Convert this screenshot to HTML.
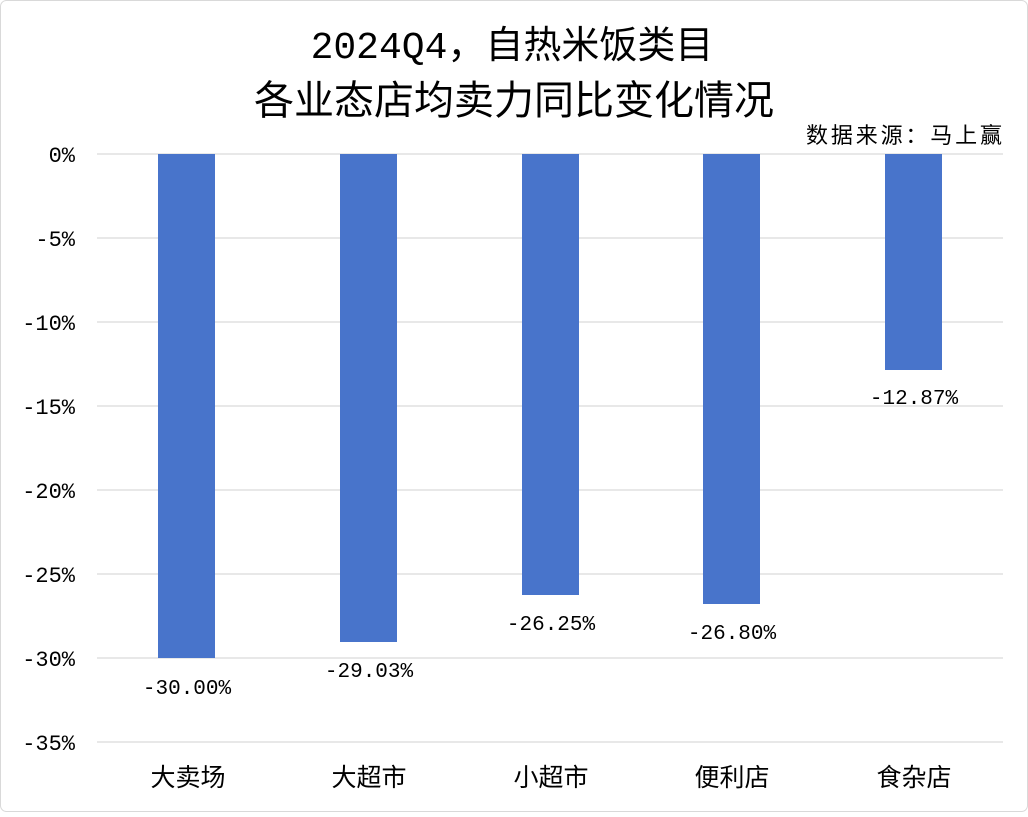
<!DOCTYPE html>
<html><head><meta charset="utf-8"><style>
html,body{margin:0;padding:0;background:#fff;}
svg text{font-family:"Liberation Mono","Noto Sans CJK SC",monospace;}
</style></head><body>
<svg width="1028" height="812" xmlns="http://www.w3.org/2000/svg">
<rect x="0.5" y="0.5" width="1027" height="811" rx="6" fill="#fff" stroke="#d9d9d9"/>
<text x="512" y="58" text-anchor="middle" font-size="38" fill="#000">2024Q4，自热米饭类目</text>
<text x="514" y="114" text-anchor="middle" font-size="40" fill="#000">各业态店均卖力同比变化情况</text>
<text x="1002" y="143" text-anchor="end" font-size="22" fill="#000" textLength="196" lengthAdjust="spacing">数据来源：马上赢</text>
<g stroke="#d9d9d9" stroke-width="1.3">
<line x1="97" x2="1003" y1="154" y2="154"/><line x1="97" x2="1003" y1="238" y2="238"/>
<line x1="97" x2="1003" y1="322" y2="322"/><line x1="97" x2="1003" y1="406" y2="406"/>
<line x1="97" x2="1003" y1="490" y2="490"/><line x1="97" x2="1003" y1="574" y2="574"/>
<line x1="97" x2="1003" y1="658" y2="658"/><line x1="97" x2="1003" y1="742" y2="742"/>
</g>
<g font-size="22" text-anchor="end" fill="#000">
<text x="75" y="162">0%</text><text x="75" y="246">-5%</text><text x="75" y="330">-10%</text>
<text x="75" y="414">-15%</text><text x="75" y="498">-20%</text><text x="75" y="582">-25%</text>
<text x="75" y="666">-30%</text><text x="75" y="750">-35%</text>
</g>
<g fill="#4874cb">
<rect x="158" y="154" width="57" height="504"/>
<rect x="340" y="154" width="57" height="488"/>
<rect x="522" y="154" width="57" height="441"/>
<rect x="703" y="154" width="57" height="450"/>
<rect x="885" y="154" width="57" height="216"/>
</g>
<g font-size="21" text-anchor="middle" fill="#000">
<text x="187" y="694">-30.00%</text>
<text x="369" y="677">-29.03%</text>
<text x="551" y="630">-26.25%</text>
<text x="732" y="639">-26.80%</text>
<text x="914" y="404">-12.87%</text>
</g>
<g font-size="25" text-anchor="middle" fill="#000">
<text x="188" y="786">大卖场</text><text x="369" y="786">大超市</text><text x="551" y="786">小超市</text>
<text x="732" y="786">便利店</text><text x="914" y="786">食杂店</text>
</g>
</svg>
</body></html>
